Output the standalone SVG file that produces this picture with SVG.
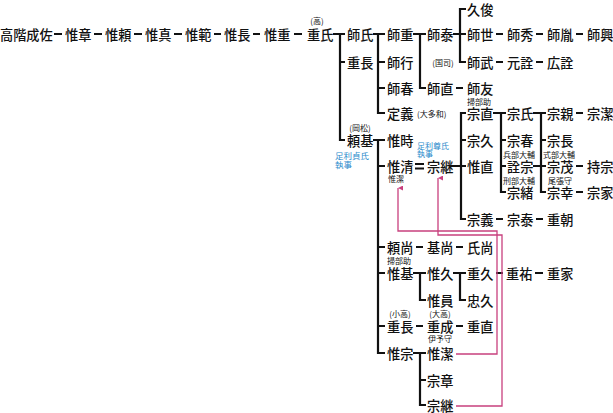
<svg xmlns="http://www.w3.org/2000/svg" width="613" height="413" viewBox="0 0 613 413">
<defs>
<style>
.n{font-family:"Noto Sans CJK JP","Noto Sans CJK SC",sans-serif;font-size:13.2px;font-weight:500;fill:#111;dominant-baseline:central}
.s{font-family:"Noto Sans CJK JP","Noto Sans CJK SC",sans-serif;font-size:8px;fill:#111;dominant-baseline:central}
.b{font-family:"Noto Sans CJK JP","Noto Sans CJK SC",sans-serif;font-size:8.5px;fill:#2b8bcb;dominant-baseline:central}
.l{fill:none;stroke:#111;stroke-width:2.2}
.p{fill:none;stroke:#c8407e;stroke-width:1.3}
</style>
<marker id="ar" viewBox="0 0 6 6" refX="3" refY="0" markerWidth="5" markerHeight="5" orient="auto-start-reverse" markerUnits="userSpaceOnUse">
<path d="M0 6 L3 0 L6 6 Z" fill="#c8407e"/>
</marker>
</defs>
<rect width="613" height="413" fill="#fff"/>
<g id="connectors">
<path class="l" d="M54 34H62M94 34H102M134 34H142M174 34H182M214 34H221M253 34H260M294 34H302"/>
<path class="l" d="M333 34H345M340 34V140H345M340 62H345"/>
<path class="l" d="M373 34H385M378 34V113H385M378 62H385M378 88H385"/>
<path class="l" d="M413 34H426M420 34V88H426"/>
<path class="l" d="M466 9H460V62H466M453 34H466"/>
<path class="l" d="M496 34H503M536 34H543M576 34H583M496 62H503M536 62H543M456 88H463"/>
<path class="l" d="M373 140H385M378 140V353H385M378 166H385M378 247H385M378 273H385M378 326H385"/>
<path class="l" d="M415 164H424M415 168.5H424" stroke-width="1.6"/>
<path class="l" d="M450 166H466M466 113H461V219H466M461 140H466"/>
<path class="l" d="M493 113H506M501 113V192H506M501 140H506M501 166H506"/>
<path class="l" d="M533 113H546M541 113V192H546M541 140H546M533 166H546"/>
<path class="l" d="M576 113H583M576 166H583M576 192H583M496 219H503M536 219H543"/>
<path class="l" d="M416 247H423M456 247H463"/>
<path class="l" d="M413 273H426M420 273V300H426M453 273H466M460 273V300H466"/>
<path class="l" d="M496 273H503M535 273H543M416 326H423M456 326H463"/>
<path class="l" d="M413 353H426M420 353V405H426M420 380H426"/>
<path class="p" marker-start="url(#ar)" d="M398 188V231H497V354H456"/>
<path class="p" marker-start="url(#ar)" d="M438 178V235H502V406H456"/>
</g>
<g id="n-takashina"><text class="n" x="0" y="34">高階成佐</text></g>
<g id="n-koreaki"><text class="n" x="65" y="34">惟章</text></g>
<g id="n-koreyori"><text class="n" x="105" y="34">惟頼</text></g>
<g id="n-koresane"><text class="n" x="145" y="34">惟真</text></g>
<g id="n-korenori"><text class="n" x="185" y="34">惟範</text></g>
<g id="n-korenaga"><text class="n" x="224" y="34">惟長</text></g>
<g id="n-koreshige"><text class="n" x="264" y="34">惟重</text></g>
<g id="n-shigeuji"><text class="s" x="317" y="20" text-anchor="middle">(高)</text><text class="n" x="307" y="34">重氏</text></g>
<g id="n-moroji"><text class="n" x="347" y="34">師氏</text></g>
<g id="n-shigenaga1"><text class="n" x="347" y="62">重長</text></g>
<g id="n-yorimoto"><text class="s" x="360" y="127" text-anchor="middle">(岡松)</text><text class="n" x="347" y="140">頼基</text><text class="b" x="335" y="154.5">足利貞氏</text><text class="b" x="335" y="164">執事</text></g>
<g id="n-moroshige"><text class="n" x="387" y="34">師重</text></g>
<g id="n-moroyuki"><text class="n" x="387" y="62">師行</text></g>
<g id="n-moroharu"><text class="n" x="387" y="88">師春</text></g>
<g id="n-sadayoshi"><text class="n" x="387" y="113">定義</text><text class="s" x="417" y="113">(大多和)</text></g>
<g id="n-koretoki"><text class="n" x="387" y="140">惟時</text></g>
<g id="n-korekiyo"><text class="n" x="387" y="166">惟清</text><text class="s" x="388" y="178.5">惟潔</text></g>
<g id="n-yorihisa"><text class="n" x="387" y="247">頼尚</text></g>
<g id="n-koremoto"><text class="s" x="387" y="260">掃部助</text><text class="n" x="387" y="273">惟基</text></g>
<g id="n-shigenaga2"><text class="s" x="400" y="313.5" text-anchor="middle">(小高)</text><text class="n" x="387" y="326">重長</text></g>
<g id="n-koremune"><text class="n" x="387" y="353">惟宗</text></g>
<g id="n-moroyasu"><text class="n" x="427" y="34">師泰</text></g>
<g id="n-kokushi"><text class="s" x="443" y="62" text-anchor="middle">(国司)</text></g>
<g id="n-moronao"><text class="n" x="427" y="88">師直</text></g>
<g id="n-munetsugu1"><text class="b" x="417" y="145" style="font-size:8px">足利尊氏</text><text class="b" x="417" y="153.5" style="font-size:8px">執事</text><text class="n" x="427" y="166">宗継</text></g>
<g id="n-motohisa"><text class="n" x="427" y="247">基尚</text></g>
<g id="n-korehisa"><text class="n" x="427" y="273">惟久</text></g>
<g id="n-korekazu"><text class="n" x="427" y="300">惟員</text></g>
<g id="n-shigenari"><text class="s" x="440" y="313.5" text-anchor="middle">(大高)</text><text class="n" x="427" y="326">重成</text><text class="s" x="440" y="338.5" text-anchor="middle">伊予守</text></g>
<g id="n-koreyoshi"><text class="n" x="427" y="353">惟潔</text></g>
<g id="n-muneaki"><text class="n" x="427" y="380">宗章</text></g>
<g id="n-munetsugu2"><text class="n" x="427" y="405">宗継</text></g>
<g id="n-hisatoshi"><text class="n" x="467" y="9">久俊</text></g>
<g id="n-moroyo"><text class="n" x="467" y="34">師世</text></g>
<g id="n-morotake"><text class="n" x="467" y="62">師武</text></g>
<g id="n-morotomo"><text class="n" x="467" y="88">師友</text></g>
<g id="n-munenao"><text class="s" x="467" y="101.5">掃部助</text><text class="n" x="467" y="113">宗直</text></g>
<g id="n-munehisa"><text class="n" x="467" y="140">宗久</text></g>
<g id="n-korenao"><text class="n" x="467" y="166">惟直</text></g>
<g id="n-muneyoshi"><text class="n" x="467" y="219">宗義</text></g>
<g id="n-ujihisa"><text class="n" x="467" y="247">氏尚</text></g>
<g id="n-shigehisa"><text class="n" x="467" y="273">重久</text></g>
<g id="n-tadahisa"><text class="n" x="467" y="300">忠久</text></g>
<g id="n-shigenao"><text class="n" x="467" y="326">重直</text></g>
<g id="n-morohide"><text class="n" x="507" y="34">師秀</text></g>
<g id="n-motoaki"><text class="n" x="507" y="62">元詮</text></g>
<g id="n-muneuji"><text class="n" x="507" y="113">宗氏</text></g>
<g id="n-muneharu"><text class="n" x="507" y="140">宗春</text></g>
<g id="n-akimune"><text class="s" x="503" y="154.5">兵部大輔</text><text class="n" x="507" y="166">詮宗</text></g>
<g id="n-muneo"><text class="s" x="503" y="180.5">刑部大輔</text><text class="n" x="507" y="192">宗緒</text></g>
<g id="n-muneyasu"><text class="n" x="507" y="219">宗泰</text></g>
<g id="n-shigesuke"><text class="n" x="506" y="273">重祐</text></g>
<g id="n-morotane"><text class="n" x="547" y="34">師胤</text></g>
<g id="n-hiroaki"><text class="n" x="547" y="62">広詮</text></g>
<g id="n-munechika"><text class="n" x="547" y="113">宗親</text></g>
<g id="n-munenaga"><text class="n" x="547" y="140">宗長</text></g>
<g id="n-munemochi"><text class="s" x="543" y="154.5">式部大輔</text><text class="n" x="547" y="166">宗茂</text></g>
<g id="n-muneyuki"><text class="s" x="548" y="180.5">尾張守</text><text class="n" x="547" y="192">宗幸</text></g>
<g id="n-shigetomo"><text class="n" x="547" y="219">重朝</text></g>
<g id="n-shigeie"><text class="n" x="547" y="273">重家</text></g>
<g id="n-morooki"><text class="n" x="587" y="34">師興</text></g>
<g id="n-muneyoshi2"><text class="n" x="587" y="113">宗潔</text></g>
<g id="n-mochimune"><text class="n" x="587" y="166">持宗</text></g>
<g id="n-muneie"><text class="n" x="587" y="192">宗家</text></g>
</svg>
